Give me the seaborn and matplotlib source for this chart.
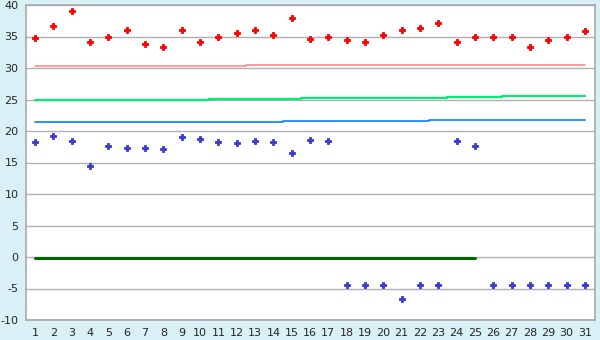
import matplotlib
matplotlib.use("Agg")
import matplotlib.pyplot as plt
import seaborn as sns
import numpy as np
import pandas as pd

days = list(range(1, 32))
red_vals = [34.7, 36.6, 39.0, 34.1, 35.0, 36.0, 33.8, 33.4, 36.0, 34.1,
            35.0, 35.5, 36.0, 35.2, 38.0, 34.6, 34.9, 34.4, 34.1, 35.2,
            36.0, 36.3, 37.1, 34.1, 35.0, 35.0, 35.0, 33.4, 34.4, 35.0, 35.8]
blue_vals = [18.2, 19.15, 18.35, 14.4, 17.57, 17.25, 17.25, 17.1, 19.0, 18.68,
             18.2, 18.05, 18.35, 18.2, 16.46, 18.52, 18.35, -4.5, -4.5, -4.5,
             -6.7, -4.5, -4.5, 18.35, 17.57, -4.5, -4.5, -4.5, -4.5, -4.5, -4.5]
pink_vals = [30.25] * 12 + [30.4] * 7 + [30.55] * 12
green_vals = [24.9] * 10 + [25.03] * 5 + [25.18] * 8 + [25.35] * 3 + [25.5] * 5
bline_vals = [21.38] * 14 + [21.53] * 8 + [21.7] * 9
zero_days = list(range(1, 26))
zero_vals = [-0.12] * 25

y_ticks = [-10, -5, 0, 5, 10, 15, 20, 25, 30, 35, 40]

sns.set_style("white")
plt.rcParams['font.family'] = ['DejaVu Sans']

fig = plt.figure(figsize=(6, 3.4), dpi=100)
fig.patch.set_facecolor('#DAF0F7')
ax = fig.add_axes([26/600, 20/340, 569/600, 315/340])
ax.set_facecolor('white')

df_lines = pd.DataFrame({'day': days, 'pink': pink_vals, 'green': green_vals, 'bline': bline_vals,
                         'red': red_vals, 'blue': blue_vals})

sns.lineplot(x='day', y='pink', data=df_lines, color='#FF8080', lw=1.1, drawstyle='steps-mid', ax=ax)
sns.lineplot(x='day', y='green', data=df_lines, color='#00EE77', lw=1.6, drawstyle='steps-mid', ax=ax)
sns.lineplot(x='day', y='bline', data=df_lines, color='#0080FF', lw=1.2, drawstyle='steps-mid', ax=ax)
sns.lineplot(x=zero_days, y=zero_vals, color='#006600', lw=2.2, ax=ax)
sns.scatterplot(x='day', y='red', data=df_lines, color='#FF0000', marker='P', s=20,
                edgecolor='#FF0000', linewidth=0.6, ax=ax, zorder=5)
sns.scatterplot(x='day', y='blue', data=df_lines, color='#3A3AD0', marker='P', s=20,
                edgecolor='#3A3AD0', linewidth=0.6, ax=ax, zorder=5)

ax.set_xlim(0.5, 31.55)
ax.set_ylim(-10, 40)
ax.set_xticks(days)
ax.set_xticklabels([str(d) for d in days])
ax.set_yticks(y_ticks)
ax.set_yticklabels([str(v) for v in y_ticks])
ax.grid(axis='y', color='#B0B0B0', lw=1)
ax.set_axisbelow(True)
ax.set_xlabel('')
ax.set_ylabel('')
for s in ax.spines.values():
    s.set_color('#A8A8A8')
    s.set_linewidth(1.2)
ax.tick_params(axis='both', direction='out', length=4, width=1, color='#333333', labelsize=8, pad=1.5)

fig.savefig('out.png', dpi=100, facecolor=fig.get_facecolor())
